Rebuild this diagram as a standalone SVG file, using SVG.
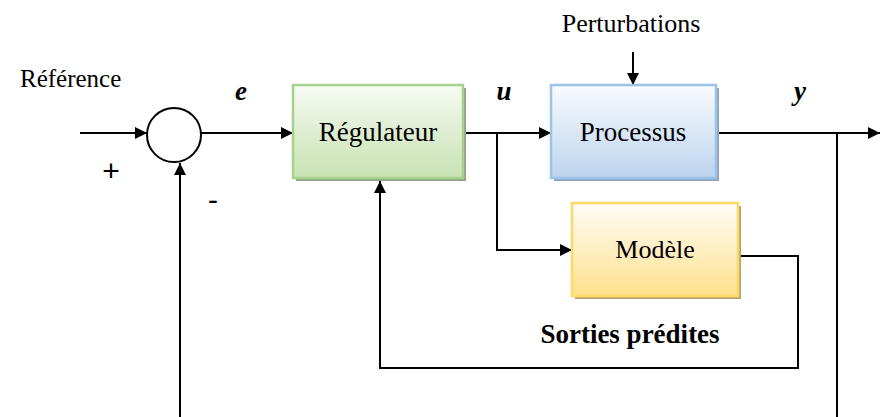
<svg xmlns="http://www.w3.org/2000/svg" width="880" height="417" viewBox="0 0 880 417">
<style>
.t{font-family:"Liberation Serif","Times New Roman",serif;fill:#000}
.lbl{font-family:"Liberation Serif","Times New Roman",serif;font-style:italic;font-weight:bold;fill:#000}
.sgn{font-family:"Liberation Sans",Arial,sans-serif;fill:#000}
.ln{fill:none;stroke:#000;stroke-width:2}
.arr{marker-end:url(#ah)}
</style>
<defs>
<marker id="ah" viewBox="0 0 12 12" refX="12" refY="6" markerWidth="12" markerHeight="12" markerUnits="userSpaceOnUse" orient="auto">
<path d="M0,0 L12,6 L0,12 Z" fill="#000"/>
</marker>
<linearGradient id="gG" x1="0" y1="0" x2="0" y2="1"><stop offset="0" stop-color="#f6fbf2"/><stop offset="1" stop-color="#c8e2b3"/></linearGradient>
<linearGradient id="gB" x1="0" y1="0" x2="0" y2="1"><stop offset="0" stop-color="#f8fbfe"/><stop offset="1" stop-color="#bcd4ee"/></linearGradient>
<linearGradient id="gY" x1="0" y1="0" x2="0" y2="1"><stop offset="0" stop-color="#fffdf8"/><stop offset="1" stop-color="#ffe08c"/></linearGradient>
</defs>

<g id="connectors">
<path class="ln arr" d="M80,133 H147"/>
<path class="ln arr" d="M201,133 H293"/>
<path class="ln arr" d="M463,133 H551"/>
<path class="ln arr" d="M497,133 V250 H572"/>
<path class="ln arr" d="M633,52 V85"/>
<path class="ln arr" d="M716,133 H880"/>
<path class="ln" d="M837,133 V417"/>
<path class="ln arr" d="M738,256 H798 V368 H380 V181"/>
<path class="ln arr" d="M180,417 V163"/>
</g>

<g id="sum">
<circle cx="174" cy="135" r="27" fill="#fff" stroke="#000" stroke-width="2"/>
</g>

<g id="regulateur">
<rect x="296" y="88" width="170" height="93" fill="#90a388"/>
<rect x="293" y="85" width="170" height="93" fill="url(#gG)" stroke="#a9d18e" stroke-width="2.5"/>
<text class="t" x="378" y="141" font-size="27" text-anchor="middle">Régulateur</text>
</g>

<g id="processus">
<rect x="554" y="88" width="165" height="93" fill="#8ea3bf"/>
<rect x="551" y="85" width="165" height="93" fill="url(#gB)" stroke="#9dc3e6" stroke-width="2.5"/>
<text class="t" x="633" y="141" font-size="27" text-anchor="middle">Processus</text>
</g>

<g id="modele">
<rect x="575" y="206" width="166" height="93" fill="#b9a46c"/>
<rect x="572" y="203" width="166" height="93" fill="url(#gY)" stroke="#ffd966" stroke-width="2.5"/>
<text class="t" x="655" y="258" font-size="26" text-anchor="middle">Modèle</text>
</g>

<g id="labels">
<text class="t" x="20" y="87" font-size="25">Référence</text>
<text class="t" x="631" y="32" font-size="26" text-anchor="middle">Perturbations</text>
<text class="lbl" x="241" y="100" font-size="27" text-anchor="middle">e</text>
<text class="lbl" x="504" y="100" font-size="27" text-anchor="middle">u</text>
<text class="lbl" x="800" y="100" font-size="27" text-anchor="middle">y</text>
<text class="sgn" x="111" y="181" font-size="30" text-anchor="middle">+</text>
<text class="sgn" x="213" y="210" font-size="30" text-anchor="middle">-</text>
<text class="t" x="630" y="343" font-size="27" font-weight="bold" text-anchor="middle">Sorties prédites</text>
</g>
</svg>
